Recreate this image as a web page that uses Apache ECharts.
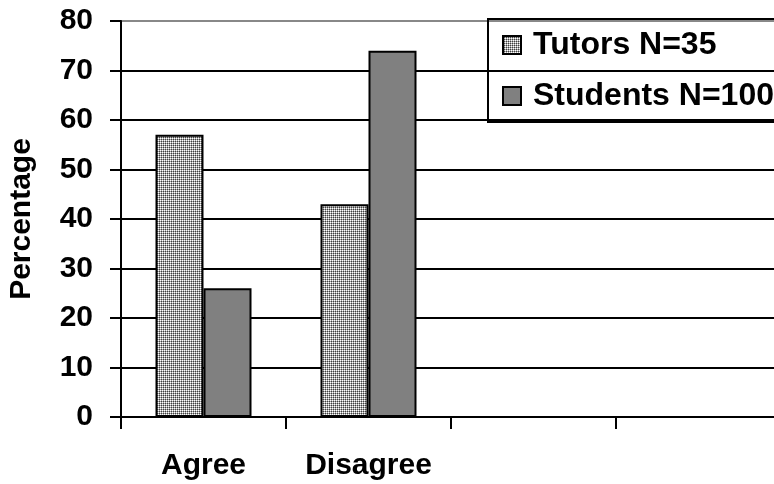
<!DOCTYPE html>
<html>
<head>
<meta charset="utf-8">
<script src="https://cdn.jsdelivr.net/npm/echarts@6/dist/echarts.min.js"></script>
<style>
html,body{margin:0;padding:0;background:#fff;}
#c{width:774px;height:484px;}
</style>
</head>
<body>
<div id="c"></div>
<script>
var categories = ['Agree', 'Disagree', '', ''];
var tutors = [57, 43];
var students = [26, 74];
var seriesNames = ['Tutors N=35', 'Students N=100'];
var yTicks = [0, 10, 20, 30, 40, 50, 60, 70, 80];

function makePattern() {
  var c = document.createElement('canvas');
  c.width = 2; c.height = 2;
  var ctx = c.getContext('2d');
  ctx.fillStyle = '#ffffff'; ctx.fillRect(0, 0, 1, 1);
  ctx.fillStyle = '#a8a8a8'; ctx.fillRect(1, 0, 1, 1);
  ctx.fillStyle = '#a8a8a8'; ctx.fillRect(0, 1, 1, 1);
  ctx.fillStyle = '#404040'; ctx.fillRect(1, 1, 1, 1);
  return c;
}
var pattern = { image: makePattern(), repeat: 'repeat' };
var FONT = '"Liberation Sans", Arial, sans-serif';

var chart = echarts.init(document.getElementById('c'), null, { renderer: 'canvas' });
var gridColors = yTicks.map(function (v, i) { return i === yTicks.length - 1 ? '#888888' : '#000000'; });

chart.setOption({
  animation: false,
  backgroundColor: '#ffffff',
  textStyle: { fontFamily: FONT },
  grid: { left: 121, top: 21, width: 660, bottom: 67, containLabel: false, outerBoundsMode: 'none' },
  legend: {
    orient: 'vertical',
    left: 488,
    top: 19,
    padding: [10, 40, 10, 14],
    itemGap: 19,
    itemWidth: 18,
    itemHeight: 18,
    icon: 'rect',
    borderColor: '#000',
    borderWidth: 2,
    data: seriesNames,
    textStyle: { fontFamily: FONT, fontSize: 32, fontWeight: 'bold', color: '#000', lineHeight: 30, padding: [0, 0, 0, 7] }
  },
  xAxis: {
    type: 'category',
    data: categories,
    boundaryGap: true,
    axisLine: { lineStyle: { color: '#000', width: 2 } },
    axisTick: { show: true, length: 12, lineStyle: { color: '#000', width: 2 } },
    axisLabel: { fontFamily: FONT, fontSize: 30, fontWeight: 'bold', color: '#000', margin: 34, interval: 0 },
    splitLine: { show: false }
  },
  yAxis: {
    type: 'value',
    min: 0, max: 80, interval: 10,
    name: 'Percentage',
    nameLocation: 'middle',
    nameGap: 84,
    nameTextStyle: { fontFamily: FONT, fontSize: 30, fontWeight: 'bold', color: '#000' },
    axisLine: { show: true, lineStyle: { color: '#000', width: 2 } },
    axisTick: { show: true, length: 11, lineStyle: { color: '#000', width: 2 } },
    axisLabel: { fontFamily: FONT, fontSize: 30, fontWeight: 'bold', color: '#000', margin: 28 },
    splitLine: { show: true, lineStyle: { color: gridColors, width: 2 } }
  },
  series: [
    {
      name: seriesNames[0],
      type: 'bar',
      data: tutors,
      barWidth: 48,
      barGap: '0%',
      itemStyle: { color: pattern, borderColor: '#000', borderWidth: 2 }
    },
    {
      name: seriesNames[1],
      type: 'bar',
      data: students,
      barWidth: 48,
      barGap: '0%',
      itemStyle: { color: '#808080', borderColor: '#000', borderWidth: 2 }
    }
  ]
});
</script>
</body>
</html>
